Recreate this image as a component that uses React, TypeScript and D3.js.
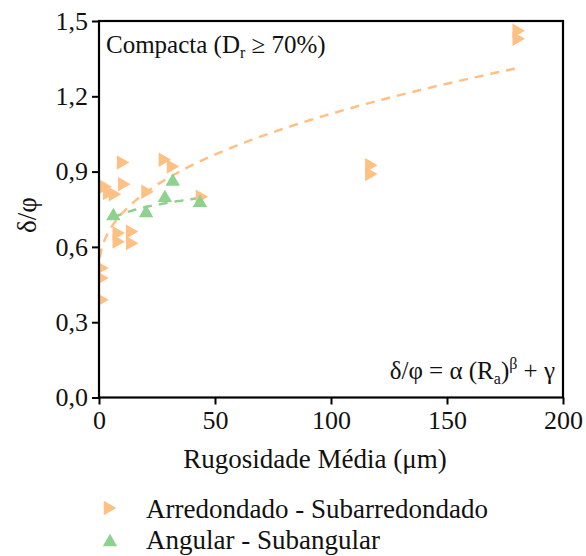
import React, { useEffect, useRef } from 'react';
import * as d3 from 'd3';

// Rounded / sub-rounded grains (orange, right-pointing triangles)
const roundX = [0.6, 0.6, 0.6, 2, 3.5, 6, 10, 7.6, 13.4, 7.6, 13.4, 9.5, 20, 27.5, 31, 43.5, 116.5, 116.5, 180, 180];
const roundY = [0.516, 0.476, 0.389, 0.84, 0.815, 0.81, 0.85, 0.655, 0.661, 0.621, 0.615, 0.936, 0.82, 0.947, 0.92, 0.80, 0.925, 0.89, 1.461, 1.429];

// Angular / sub-angular grains (green, up triangles)
const angX = [6.2, 20.3, 28.4, 31.8, 43.5];
const angY = [0.723, 0.735, 0.795, 0.86, 0.776];

// fitted parameters for δ/φ = α (Ra)^β + γ
const roundFit = { alpha: 0.087, beta: 0.43, gamma: 0.5, from: 0.4, to: 181 };
const angFit = { alpha: 0.0716, beta: 0.265, gamma: 0.6, from: 6, to: 44 };

const xTicks = [0, 50, 100, 150, 200];
const yTicks = [0, 0.3, 0.6, 0.9, 1.2, 1.5];

const ORANGE = '#FFC084';
const GREEN = '#8FD18F';
const FONT = '"Liberation Serif", "DejaVu Serif", serif';

const App = () => {
  const ref = useRef<SVGSVGElement>(null);

  useEffect(() => {
    const svg = d3.select(ref.current);
    svg.selectAll('*').remove();

    const left = 99, right = 563, top = 21, bottom = 397.5;
    const x = d3.scaleLinear().domain([0, 200]).range([left, right]);
    const y = d3.scaleLinear().domain([0, 1.5]).range([bottom, top]);

    svg.append('defs').append('clipPath').attr('id', 'plot-clip')
      .append('rect')
      .attr('x', left).attr('y', top)
      .attr('width', right - left).attr('height', bottom - top);

    const fmt = (d: number) => d3.format('.1f')(d).replace('.', ',');

    // axes
    svg.append('g')
      .attr('transform', `translate(${left},0)`)
      .call(d3.axisLeft(y).tickValues(yTicks).tickFormat(fmt as any).tickSize(7).tickPadding(4))
      .attr('font-family', FONT).attr('font-size', 26)
      .call(g => g.select('.domain').remove())
      .call(g => g.selectAll('line').attr('stroke', '#000').attr('stroke-width', 2))
      .call(g => g.selectAll('text').attr('fill', '#111'));

    svg.append('g')
      .attr('transform', `translate(0,${bottom})`)
      .call(d3.axisBottom(x).tickValues(xTicks).tickSize(7).tickPadding(6))
      .attr('font-family', FONT).attr('font-size', 26)
      .call(g => g.select('.domain').remove())
      .call(g => g.selectAll('line').attr('stroke', '#000').attr('stroke-width', 2))
      .call(g => g.selectAll('text').attr('fill', '#111'));

    const plot = svg.append('g').attr('clip-path', 'url(#plot-clip)');

    // fit curves
    const line = d3.line<[number, number]>().x(d => x(d[0])).y(d => y(d[1]));
    const fitPts = (f: typeof roundFit) =>
      d3.range(0, 101).map(i => {
        const r = f.from + (f.to - f.from) * Math.pow(i / 100, 2);
        return [r, f.alpha * Math.pow(r, f.beta) + f.gamma] as [number, number];
      });

    plot.append('path').datum(fitPts(roundFit)).attr('d', line)
      .attr('fill', 'none').attr('stroke', ORANGE).attr('stroke-width', 2.5)
      .attr('stroke-dasharray', '9,7');
    plot.append('path').datum(fitPts(angFit)).attr('d', line)
      .attr('fill', 'none').attr('stroke', GREEN).attr('stroke-width', 2.5)
      .attr('stroke-dasharray', '9,7');

    const tri = d3.symbol().type(d3.symbolTriangle).size(90);

    plot.selectAll('.round').data(roundX).enter().append('path')
      .attr('class', 'round')
      .attr('d', tri)
      .attr('transform', (d, i) => `translate(${x(d)},${y(roundY[i])}) rotate(90)`)
      .attr('fill', ORANGE);

    plot.selectAll('.ang').data(angX).enter().append('path')
      .attr('class', 'ang')
      .attr('d', tri)
      .attr('transform', (d, i) => `translate(${x(d)},${y(angY[i])})`)
      .attr('fill', GREEN);

    // frame
    svg.append('rect')
      .attr('x', left).attr('y', top)
      .attr('width', right - left).attr('height', bottom - top)
      .attr('fill', 'none').attr('stroke', '#000').attr('stroke-width', 2.2);

    const txt = (sel: any, size: number) =>
      sel.attr('font-family', FONT).attr('font-size', size).attr('fill', '#111');

    // annotations
    const ann = txt(svg.append('text').attr('x', 106).attr('y', 53), 25);
    ann.append('tspan').text('Compacta (D');
    ann.append('tspan').attr('dy', 5).attr('font-size', 16).text('r');
    ann.append('tspan').attr('dy', -5).text(' ≥ 70%)');

    const eq = txt(svg.append('text').attr('x', 555).attr('y', 379).attr('text-anchor', 'end'), 25);
    eq.append('tspan').text('δ/φ = α (R');
    eq.append('tspan').attr('dy', 5).attr('font-size', 16).text('a');
    eq.append('tspan').attr('dy', -5).text(')');
    eq.append('tspan').attr('dy', -10).attr('font-size', 16).text('β');
    eq.append('tspan').attr('dy', 10).text(' + γ');

    // axis titles
    txt(svg.append('text').attr('x', 315).attr('y', 468).attr('text-anchor', 'middle'), 27)
      .text('Rugosidade Média (μm)');
    txt(svg.append('text').attr('transform', 'translate(36,215) rotate(-90)').attr('text-anchor', 'middle'), 27)
      .text('δ/φ');

    // legend
    svg.append('path').attr('d', tri).attr('transform', 'translate(108,508) rotate(90)').attr('fill', ORANGE);
    txt(svg.append('text').attr('x', 146).attr('y', 518), 27).text('Arredondado - Subarredondado');
    svg.append('path').attr('d', tri).attr('transform', 'translate(110,542)').attr('fill', GREEN);
    txt(svg.append('text').attr('x', 146).attr('y', 549), 27).text('Angular - Subangular');
  }, []);

  return (
    <svg ref={ref} width={586} height={556}
      style={{ position: 'absolute', left: 0, top: 0, background: '#fff' }} />
  );
};

export default App;
